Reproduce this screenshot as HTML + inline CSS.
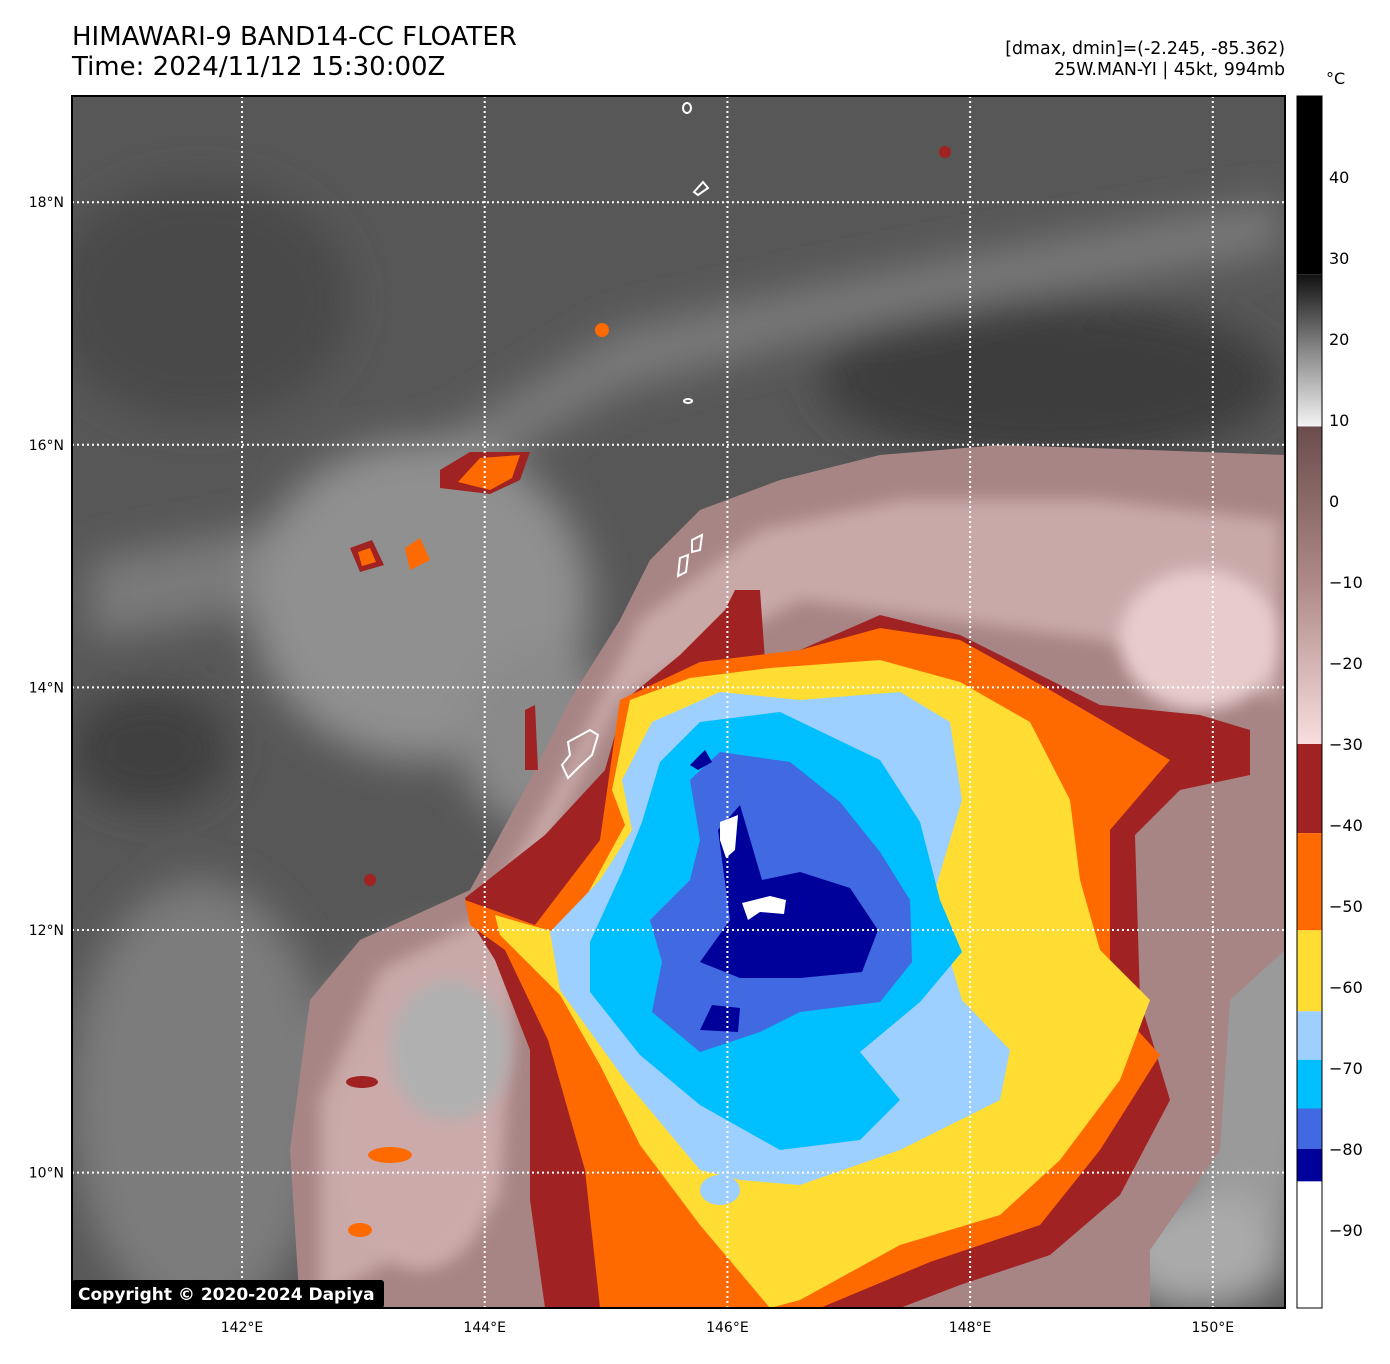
<!DOCTYPE html>
<html><head><meta charset="utf-8"><style>
body{margin:0;background:#fff;width:1390px;height:1359px;overflow:hidden;font-family:"Liberation Sans","DejaVu Sans",sans-serif}
</style></head><body>
<svg id="fig" width="1390" height="1359" xmlns="http://www.w3.org/2000/svg" font-family="DejaVu Sans, Liberation Sans, sans-serif">
<defs>
<linearGradient id="cbGray" x1="0" y1="0" x2="0" y2="1">
<stop offset="0" stop-color="#111"/><stop offset="0.5" stop-color="#888"/><stop offset="1" stop-color="#f4f4f4"/></linearGradient>
<linearGradient id="cbBrown" x1="0" y1="0" x2="0" y2="1">
<stop offset="0" stop-color="#6b4c4c"/><stop offset="0.5" stop-color="#b08a8a"/><stop offset="1" stop-color="#f8dede"/></linearGradient>
<filter id="blur8"><feGaussianBlur stdDeviation="8"/></filter>
<filter id="blur20"><feGaussianBlur stdDeviation="20"/></filter>
<clipPath id="mapClip"><rect x="72" y="96" width="1213" height="1212"/></clipPath>
</defs>
<text x="72" y="45" font-size="26">HIMAWARI-9 BAND14-CC FLOATER</text>
<text x="72" y="75" font-size="26">Time: 2024/11/12 15:30:00Z</text>
<text x="1285" y="54" font-size="17.4" text-anchor="end">[dmax, dmin]=(-2.245, -85.362)</text>
<text x="1285" y="75" font-size="17.4" text-anchor="end">25W.MAN-YI | 45kt, 994mb</text>

<g clip-path="url(#mapClip)">
<rect x="72" y="96" width="1213" height="1212" fill="#575757"/>
<g filter="url(#blur20)">
<ellipse cx="200" cy="300" rx="150" ry="120" fill="#4a4a4a"/>
<ellipse cx="1050" cy="380" rx="230" ry="80" fill="#3e3e3e"/>
<ellipse cx="150" cy="750" rx="80" ry="60" fill="#404040"/>
<path d="M90 560 L300 520 L470 420 L620 330 L800 290 L1000 250 L1280 200 L1280 250 L1000 300 L800 340 L620 390 L480 470 L320 600 L90 640Z" fill="#7a7a7a"/>
<ellipse cx="420" cy="600" rx="170" ry="160" fill="#909090"/>
<ellipse cx="200" cy="1100" rx="130" ry="220" fill="#7c7c7c"/>
<ellipse cx="450" cy="1050" rx="120" ry="110" fill="#a5a5a5"/>
<ellipse cx="1250" cy="1050" rx="80" ry="200" fill="#9a9a9a"/>
<ellipse cx="1200" cy="1250" rx="90" ry="60" fill="#aaa"/>
<ellipse cx="540" cy="740" rx="80" ry="90" fill="#8a8a8a"/>
</g>
<path d="M300 1308 L290 1150 L310 1000 L360 940 L470 890 L530 780 L570 700 L620 620 L650 560 L700 510 L780 480 L880 455 L1000 445 L1150 450 L1285 455 L1285 950 L1230 1000 L1220 1150 L1150 1250 L1150 1308Z" fill="#a88585"/>
<g filter="url(#blur8)">
<path d="M320 1300 L320 1100 L380 970 L480 920 L560 780 L640 620 L760 530 L900 500 L1100 500 L1280 520 L1280 700 L1100 640 L800 600 L620 700 L520 900 L500 1200Z" fill="#c9a8a8"/>
<ellipse cx="1200" cy="640" rx="80" ry="70" fill="#e8cccc"/>
<ellipse cx="420" cy="1150" rx="80" ry="120" fill="#caa"/>
</g>
<ellipse cx="450" cy="1050" rx="60" ry="70" fill="#b0b0b0" filter="url(#blur8)"/>
<path d="M465 898 L545 835 L605 770 L625 700 L680 655 L725 610 L735 590 L760 590 L765 660 L800 650 L880 615 L960 635 L1030 670 L1100 705 L1200 715 L1250 730 L1250 775 L1180 790 L1135 835 L1140 1000 L1170 1100 L1120 1195 L1050 1255 L960 1285 L900 1308 L545 1308 L530 1200 L530 1050 L495 960 L470 920Z" fill="#a02222"/>
<path d="M465 900 L535 925 L600 840 L620 700 L700 662 L800 650 L880 628 L960 640 L1050 690 L1170 760 L1110 830 L1110 1000 L1160 1055 L1100 1150 L1040 1225 L930 1262 L820 1308 L600 1308 L585 1170 L548 1040 L505 950 L470 925Z" fill="#ff6a00"/>
<path d="M495 915 L565 935 L625 825 L612 790 L630 700 L690 678 L770 668 L880 660 L960 682 L1030 722 L1070 800 L1080 880 L1100 950 L1150 1000 L1120 1080 L1060 1160 L1000 1215 L900 1245 L800 1300 L770 1308 L700 1225 L640 1145 L600 1065 L560 995 L500 935Z" fill="#ffdd33"/>
<path d="M550 932 L600 880 L632 830 L622 780 L652 722 L720 692 L800 700 L900 692 L950 722 L962 800 L932 900 L962 1000 L1010 1050 L1000 1100 L900 1150 L800 1185 L740 1180 L700 1170 L625 1080 L560 990Z" fill="#9dcfff"/>
<ellipse cx="720" cy="1190" rx="20" ry="15" fill="#9dcfff"/>
<path d="M590 942 L622 872 L642 822 L660 762 L700 722 L780 712 L880 760 L920 822 L940 900 L962 952 L920 1002 L860 1052 L900 1100 L860 1140 L780 1150 L700 1105 L640 1055 L590 992Z" fill="#00bfff"/>
<path d="M650 920 L690 880 L700 840 L690 780 L720 752 L790 762 L840 802 L880 852 L910 900 L912 962 L880 1002 L800 1012 L760 1032 L700 1052 L652 1012 L662 962Z" fill="#4169e1"/>
<path d="M700 962 L730 920 L718 830 L740 805 L762 880 L800 872 L850 888 L878 930 L862 972 L800 978 L740 978Z" fill="#00009a"/>
<path d="M700 1030 L712 1005 L740 1008 L738 1032Z" fill="#00009a"/>
<path d="M690 765 L705 750 L712 762 L698 770Z" fill="#00009a"/>
<path d="M720 822 L738 815 L735 850 L726 858 L720 840Z" fill="#fff"/>
<path d="M742 903 L770 896 L786 900 L784 914 L760 912 L748 920Z" fill="#fff"/>
<path d="M440 470 L470 452 L530 452 L520 480 L490 494 L440 488Z" fill="#a02222"/>
<path d="M458 482 L480 458 L520 455 L512 478 L490 490Z" fill="#ff6a00"/>
<path d="M350 548 L372 540 L384 565 L360 572Z" fill="#a02222"/>
<path d="M358 552 L370 548 L376 562 L362 566Z" fill="#ff6a00"/>
<path d="M405 548 L420 538 L430 560 L410 570Z" fill="#ff6a00"/>
<circle cx="602" cy="330" r="7" fill="#ff6a00"/>
<circle cx="945" cy="152" r="6" fill="#a02222"/>
<circle cx="370" cy="880" r="6" fill="#a02222"/>
<ellipse cx="390" cy="1155" rx="22" ry="8" fill="#ff6a00"/>
<ellipse cx="360" cy="1230" rx="12" ry="7" fill="#ff6a00"/>
<ellipse cx="362" cy="1082" rx="16" ry="6" fill="#a02222"/>
<path d="M525 710 L535 705 L538 770 L525 770Z" fill="#a02222"/>
<g fill="none" stroke="#fff" stroke-width="2">
<path d="M568 742 L590 730 L598 735 L592 755 L578 768 L568 778 L562 765 L570 755Z"/>
<path d="M680 558 L688 555 L686 572 L678 576Z"/>
<path d="M692 540 L702 535 L700 550 L692 552Z"/>
<ellipse cx="687" cy="108" rx="4" ry="5"/>
<path d="M694 192 L703 182 L708 188 L698 195Z"/>
<ellipse cx="688" cy="401" rx="4" ry="2"/>
</g>
<g id="grid"></g>
</g>
<rect x="72" y="96" width="1213" height="1212" fill="none" stroke="#000" stroke-width="2"/>
<rect x="72" y="1280" width="312" height="28" rx="3" fill="#000"/>
<text x="78" y="1300" font-size="17" font-weight="bold" fill="#fff">Copyright © 2020-2024 Dapiya</text>
<g id="axes" font-size="14"></g>
<g id="cbar"></g>
<text x="1326" y="84" font-size="16">°C</text>
</svg>
<script>
const lonTicks=[142,144,146,148,150];
const latTicks=[18,16,14,12,10];
const cbTicks=[40,30,20,10,0,-10,-20,-30,-40,-50,-60,-70,-80,-90];
const cbBands=[[-30,-41,'#a02222'],[-41,-53,'#ff6a00'],[-53,-63,'#ffdd33'],[-63,-69,'#9dcfff'],[-69,-75,'#00bfff'],[-75,-80,'#4169e1'],[-80,-84,'#00009a'],[-84,-100,'#ffffff']];
const NS='http://www.w3.org/2000/svg';
const xLon=l=>242+(l-142)*121.35;
const yLat=l=>930-(l-12)*121.3;
const yC=v=>501-v*8.1;
function mk(tag,at,parent){const e=document.createElementNS(NS,tag);for(const k in at)e.setAttribute(k,at[k]);parent.appendChild(e);return e;}
const grid=document.getElementById('grid'),axes=document.getElementById('axes'),cb=document.getElementById('cbar');
lonTicks.forEach(l=>{const x=xLon(l);
 const g=mk('line',{x1:x,x2:x,y1:96,y2:1308,stroke:'#fff','stroke-width':2,'stroke-dasharray':'2,3'},grid);
 
 
 const t=mk('text',{x:x,y:1332,'text-anchor':'middle'},axes);t.textContent=l+'°E';
 
 });
latTicks.forEach(l=>{const y=yLat(l);
 const g=mk('line',{x1:72,x2:1285,y1:y,y2:y,stroke:'#fff','stroke-width':2,'stroke-dasharray':'2,3'},grid);
 
 
 const t=mk('text',{x:64,y:y+5,'text-anchor':'end'},axes);t.textContent=l+'°N';
 
 });
let r=mk('rect',{x:1297,y:96,width:25,height:yC(28)-96,fill:'#000'},cb);


r=mk('rect',{x:1297,y:yC(28),width:25,height:yC(9.2)-yC(28),fill:'url(#cbGray)'},cb);


r=mk('rect',{x:1297,y:yC(9.2),width:25,height:yC(-30)-yC(9.2),fill:'url(#cbBrown)'},cb);


cbBands.forEach(b=>{const e=mk('rect',{x:1297,y:yC(b[0]),width:25,height:yC(b[1])-yC(b[0]),fill:b[2]},cb);
 
 });
mk('rect',{x:1297,y:96,width:25,height:1212,fill:'none',stroke:'#000','stroke-width':1},cb);
cbTicks.forEach(v=>{const t=mk('text',{x:1329,y:yC(v)+6,'font-size':16},cb);t.textContent=v<0?'\u2212'+(-v):String(v);
 
 });
</script>
</body></html>
